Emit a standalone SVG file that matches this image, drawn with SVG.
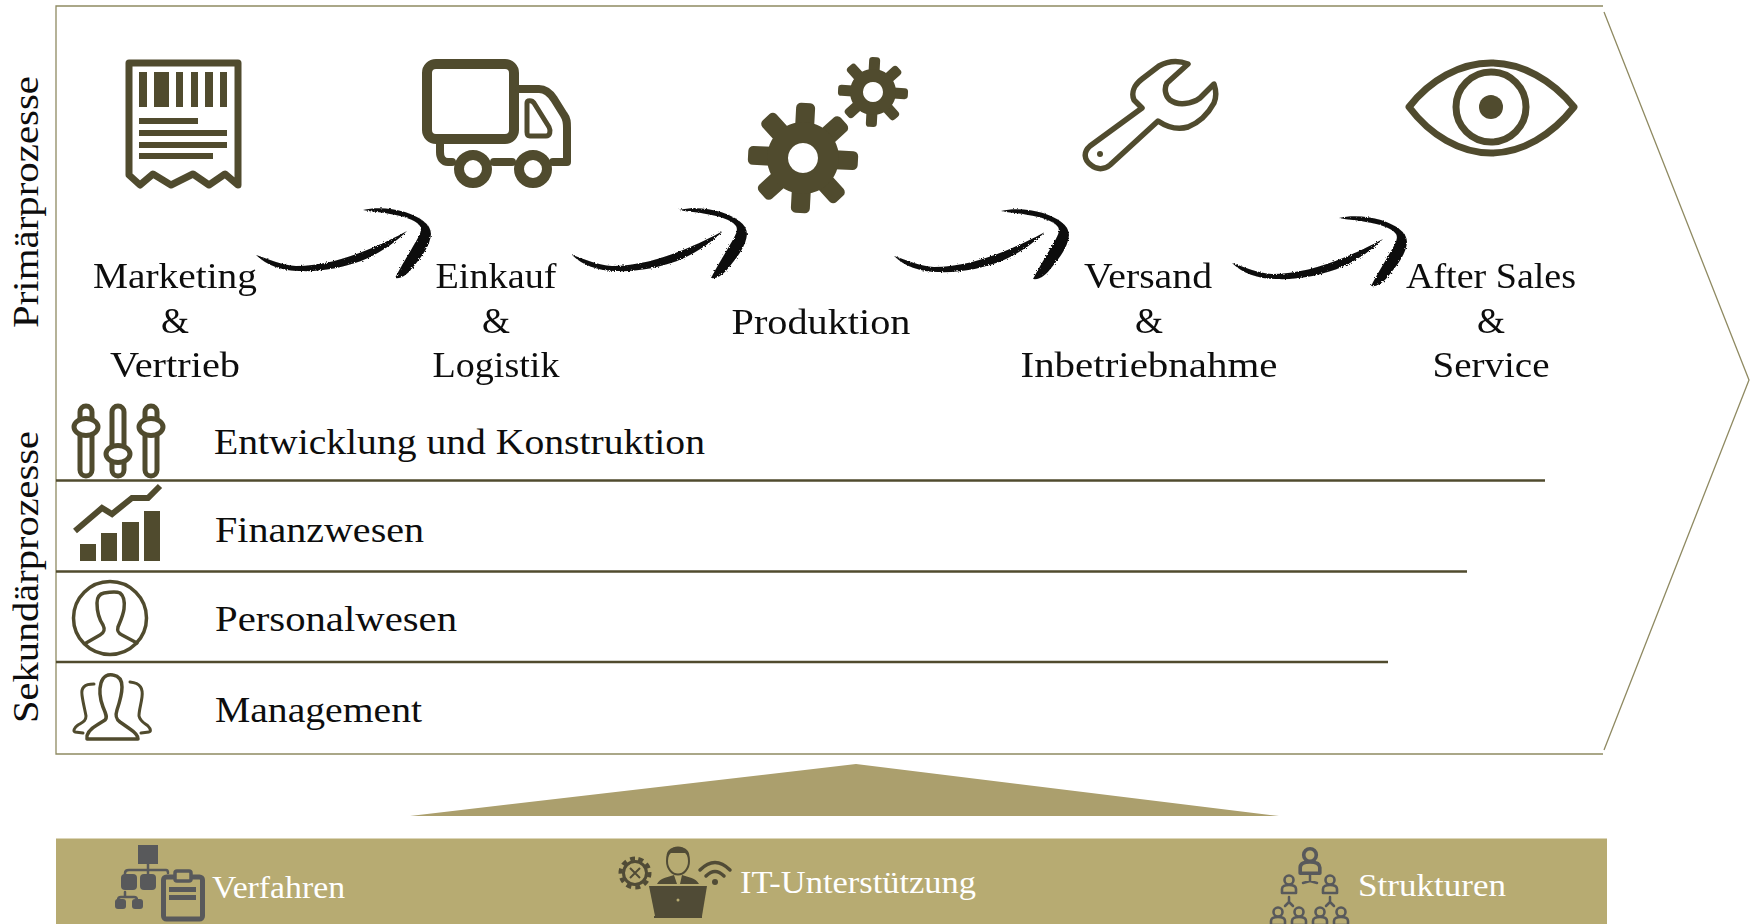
<svg xmlns="http://www.w3.org/2000/svg" xmlns:xlink="http://www.w3.org/1999/xlink" width="1757" height="924" viewBox="0 0 1757 924">
<style>
text{font-family:"Liberation Serif","Times New Roman",serif;fill:#0d0d0d;font-size:36px}
.c{text-anchor:middle}
.w{fill:#fff;font-size:32px}
.i{fill:#504b2e}
.s{fill:none;stroke:#504b2e;stroke-linejoin:round;stroke-linecap:round}
.g{fill:#58595b}
.gs{fill:none;stroke:#58595b;stroke-linejoin:round;stroke-linecap:round}
.ol{fill:none;stroke:#8f8a62;stroke-width:1.3}
.hl{stroke:#504b2e;stroke-width:2.5}
</style>
<defs>
<filter id="rough" x="-5%" y="-5%" width="110%" height="110%"><feTurbulence type="fractalNoise" baseFrequency="0.7" numOctaves="2" seed="4"/><feDisplacementMap in="SourceGraphic" scale="3"/></filter>
<path id="brush" d="M256 255C268 259 282 265 296 266C320 266 345 259 367 250C382 244 396 237 407 231C397 241 383 251 368 258C346 268 320 272 300 271C282 271 266 265 256 255ZM363 210C375 207 392 208 405 212C420 217 431 224 431 234C430 246 422 256 414 266C408 274 402 279 395 278C399 270 405 260 411 250C418 238 423 231 420 226C415 219 402 216 390 214C382 212 372 212 363 210Z"/>
<rect id="t1" x="-9.500" y="-55" width="19" height="28" rx="5"/>
<rect id="t2" x="-5.500" y="-35" width="11" height="18" rx="3.500"/>
<g id="gear1"><use xlink:href="#t1"/><use xlink:href="#t1" transform="rotate(45)"/><use xlink:href="#t1" transform="rotate(90)"/><use xlink:href="#t1" transform="rotate(135)"/><use xlink:href="#t1" transform="rotate(180)"/><use xlink:href="#t1" transform="rotate(225)"/><use xlink:href="#t1" transform="rotate(270)"/><use xlink:href="#t1" transform="rotate(315)"/></g>
<g id="gear2"><use xlink:href="#t2"/><use xlink:href="#t2" transform="rotate(45)"/><use xlink:href="#t2" transform="rotate(90)"/><use xlink:href="#t2" transform="rotate(135)"/><use xlink:href="#t2" transform="rotate(180)"/><use xlink:href="#t2" transform="rotate(225)"/><use xlink:href="#t2" transform="rotate(270)"/><use xlink:href="#t2" transform="rotate(315)"/></g>
</defs>
<g id="frame">
<path class="ol" d="M1603 6H56V754H1603"/>
<path class="ol" d="M1604 12L1749 380L1604 750"/>
</g>
<g id="arrows" fill="#0b0b0b" filter="url(#rough)">
<use xlink:href="#brush"/>
<use xlink:href="#brush" x="316"/>
<use xlink:href="#brush" x="638" y="1"/>
<use xlink:href="#brush" x="976" y="8"/>
</g>
<g id="marketing">
<path class="s" stroke-width="7" d="M129 63H238V185L225 174L209 185L193 174L171 185L153 174L140 185L129 175Z"/>
<g class="i">
<rect x="139" y="72" width="8" height="35"/><rect x="154" y="72" width="15" height="35"/><rect x="176" y="72" width="7" height="35"/><rect x="191" y="72" width="7" height="35"/><rect x="205" y="72" width="8" height="35"/><rect x="220" y="72" width="7" height="35"/>
<rect x="139" y="118" width="59" height="6"/><rect x="139" y="130" width="88" height="6"/><rect x="139" y="142" width="88" height="6"/><rect x="139" y="153" width="74" height="6"/>
</g>
<text class="c" x="175" y="288" textLength="164" lengthAdjust="spacingAndGlyphs">Marketing</text>
<text class="c" x="175" y="333">&amp;</text>
<text class="c" x="175" y="377" textLength="130" lengthAdjust="spacingAndGlyphs">Vertrieb</text>
</g>
<g id="einkauf">
<rect class="s" stroke-width="10" x="427" y="64" width="87" height="75" rx="9"/>
<path class="s" stroke-width="8" d="M519 89H539C546 89 550 93 554 99L564 115C567 119 567 122 567 128V162H553M512 162H494M452 162H448C443 162 440 158 440 152V144"/>
<path class="s" stroke-width="5" d="M527 103C527 100 532 100 534 103L549 127C551 131 550 136 546 136H530C528 136 527 135 527 132Z"/>
<circle class="s" stroke-width="10" cx="473" cy="169" r="14"/>
<circle class="s" stroke-width="10" cx="533" cy="169" r="14"/>
<text class="c" x="496" y="288" textLength="121" lengthAdjust="spacingAndGlyphs">Einkauf</text>
<text class="c" x="496" y="333">&amp;</text>
<text class="c" x="496" y="377" textLength="127" lengthAdjust="spacingAndGlyphs">Logistik</text>
</g>
<g id="produktion">
<g class="i" transform="translate(803 158) rotate(3)"><use xlink:href="#gear1"/></g>
<path class="i" fill-rule="evenodd" d="M803 122a36 36 0 1 0 .01 0ZM803 143a15 15 0 1 1-.01 0Z"/>
<g class="i" transform="translate(873 92) rotate(3)"><use xlink:href="#gear2"/></g>
<path class="i" fill-rule="evenodd" d="M873 69a23 23 0 1 0 .01 0ZM873 82a10 10 0 1 1-.01 0Z"/>
<text class="c" x="821" y="334" textLength="179" lengthAdjust="spacingAndGlyphs">Produktion</text>
</g>
<g id="versand">
<path class="s" stroke-width="5.5" d="M1188 64C1178 60 1168 61 1159 66L1142 79C1134 85 1131 93 1134 100L1142 108L1090 146C1083 152 1084 160 1091 165C1097 170 1104 170 1110 165L1158 121C1167 127 1178 130 1188 127C1198 123 1208 114 1214 103C1217 96 1216 90 1214 84L1200 98C1192 104 1178 106 1170 100C1165 96 1164 88 1167 83Z"/>
<circle class="i" cx="1100" cy="154" r="3"/>
<text class="c" x="1148" y="288" textLength="128" lengthAdjust="spacingAndGlyphs">Versand</text>
<text class="c" x="1149" y="333">&amp;</text>
<text class="c" x="1149" y="377" textLength="257" lengthAdjust="spacingAndGlyphs">Inbetriebnahme</text>
</g>
<g id="aftersales">
<path class="s" stroke-width="7" d="M1409 107C1430 80 1460 63 1491 63C1522 63 1552 80 1574 107C1552 135 1522 153 1491 153C1460 153 1430 135 1409 107Z"/>
<circle class="s" stroke-width="7" cx="1491" cy="107" r="35"/>
<circle class="i" cx="1491" cy="107" r="12"/>
<text class="c" x="1491" y="288" textLength="170" lengthAdjust="spacingAndGlyphs">After Sales</text>
<text class="c" x="1491" y="333">&amp;</text>
<text class="c" x="1491" y="377" textLength="117" lengthAdjust="spacingAndGlyphs">Service</text>
</g>
<g id="primaer-label"><text transform="translate(38 328) rotate(-90)" textLength="252" lengthAdjust="spacingAndGlyphs">Primärprozesse</text></g>
<g id="sekundaer-label"><text transform="translate(38 723) rotate(-90)" textLength="292" lengthAdjust="spacingAndGlyphs">Sekundärprozesse</text></g>
<g id="lines">
<path class="hl" d="M56 480.500H1545M56 571.500H1467M56 662H1388"/>
</g>
<g id="entwicklung">
<g class="s" stroke-width="5"><rect x="80" y="406" width="12" height="70" rx="6"/><rect x="112" y="406" width="12" height="70" rx="6"/><rect x="145" y="406" width="12" height="70" rx="6"/></g>
<g fill="#fff" stroke="#504b2e" stroke-width="5"><ellipse cx="86" cy="427" rx="12" ry="8.500"/><ellipse cx="118" cy="454" rx="12" ry="8.500"/><ellipse cx="151" cy="427" rx="12" ry="8.500"/></g>
<text x="214" y="454" textLength="491" lengthAdjust="spacingAndGlyphs">Entwicklung und Konstruktion</text>
</g>
<g id="finanzwesen">
<path fill="none" stroke="#504b2e" stroke-width="6" d="M75 531L102 508L112 514L132 498H148L160 486"/>
<g class="i"><rect x="80" y="544" width="16" height="17"/><rect x="101" y="533" width="16" height="28"/><rect x="122" y="522" width="17" height="39"/><rect x="144" y="511" width="16" height="50"/></g>
<text x="215" y="542" textLength="209" lengthAdjust="spacingAndGlyphs">Finanzwesen</text>
</g>
<g id="personalwesen">
<circle class="s" stroke-width="3.500" cx="110" cy="618" r="36.500"/>
<path class="s" stroke-width="3.500" d="M86 643L100 635C105 632 105 629 103 625C99 619 97 611 97 603C97 597 99 594 104 593C110 592 116 591 120 593C124 596 125 601 124 609C123 616 120 622 118 627C117 631 118 633 122 635L137 643"/>
<text x="215" y="631" textLength="242" lengthAdjust="spacingAndGlyphs">Personalwesen</text>
</g>
<g id="management">
<path class="s" stroke-width="3.500" d="M87 739C86 733 90 729 97 725L105 720C108 717 105 712 103 707C100 699 99 690 101 683C103 676 108 674 113 675C119 676 122 680 122 687C122 695 119 704 117 710C115 716 116 719 120 722L130 729C136 733 138 736 138 739Z"/>
<path class="s" stroke-width="3" d="M94 684C84 684 81 688 82 695C83 703 85 710 86 716C86 721 83 722 78 725C74 728 73 731 75 732L83 733"/>
<path class="s" stroke-width="3" d="M130 682C141 683 143 689 142 697C141 705 139 710 139 716C140 721 144 723 148 726C151 729 151 732 149 732L141 733"/>
<text x="215" y="722" textLength="207" lengthAdjust="spacingAndGlyphs">Management</text>
</g>
<g id="triangle"><polygon points="410,816 856,764 1279,816" fill="#ab9f6d"/></g>
<g id="band"><rect x="56" y="838.500" width="1551" height="86" fill="#b7ab72"/></g>
<g id="verfahren">
<rect class="g" x="138" y="845" width="20" height="19"/>
<path class="gs" stroke-width="2.500" d="M148 864V870M125 878V873C125 871 127 870 129 870H166C168 870 168 872 168 873M148 870V876M125 892V897M118 903V900C118 898 119 897 121 897H134C136 897 137 898 137 900V903"/>
<rect class="g" x="121" y="874" width="16" height="16" rx="4"/><rect class="g" x="140" y="874" width="16" height="16" rx="4"/>
<rect class="g" x="115" y="899" width="11" height="10" rx="3"/><rect class="g" x="132" y="899" width="11" height="10" rx="3"/>
<rect class="gs" stroke-width="5" x="163.500" y="877" width="39" height="42" rx="3"/>
<rect fill="#b7ab72" stroke="#58595b" stroke-width="3.500" x="175" y="871" width="16" height="10" rx="2"/>
<rect class="g" x="169" y="887" width="27" height="5"/><rect class="g" x="169" y="895" width="27" height="5"/>
<text class="w" x="212" y="898" textLength="133" lengthAdjust="spacingAndGlyphs">Verfahren</text>
</g>
<g id="it">
<circle fill="none" stroke="#504b36" stroke-width="3" cx="635" cy="873" r="11.500"/>
<path fill="none" stroke="#504b36" stroke-width="4" stroke-dasharray="5 4.100" d="M635 858.500a14.500 14.500 0 1 0 .01 0Z"/>
<path fill="none" stroke="#504b36" stroke-width="2" d="M630 868L640 878M640 868L630 878"/>
<ellipse cx="678" cy="861" rx="11" ry="13.500" fill="#b7ab72" stroke="#504b36" stroke-width="2"/>
<path fill="#504b36" d="M667 860C665 851 670 847 678 847C686 847 691 851 689 860C688 856 687 854 685 853H671C669 854 668 856 667 860Z M657 884C660 878 668 877 674 875L677 884H680L682 875C688 877 696 878 699 884Z"/>
<path fill="#504b36" d="M649 886H707L702 916H655Z"/>
<rect x="654" y="916" width="48" height="2" fill="#504b36"/>
<circle cx="678" cy="900" r="1.500" fill="#b7ab72"/>
<path fill="none" stroke="#504b36" stroke-width="3.500" stroke-linecap="round" d="M700 870C710 860 720 860 730 870M706 876C712 870 718 870 724 876"/>
<circle cx="715" cy="882" r="3" fill="#504b36"/>
<text class="w" x="740" y="893" textLength="236" lengthAdjust="spacingAndGlyphs">IT-Unterstützung</text>
</g>
<g id="strukturen">
<defs><g id="p"><circle cx="0" cy="-5" r="4.500" fill="none" stroke-width="2.600"/><path fill="none" stroke-width="2.600" d="M-7 8V4C-7 1-4 0 0 0C4 0 7 1 7 4V8Z"/></g></defs>
<g stroke="#58595b" stroke-linejoin="round">
<g transform="translate(1310 862) scale(1.400)"><use xlink:href="#p"/></g>
<use xlink:href="#p" x="1289" y="885"/><use xlink:href="#p" x="1330" y="885"/>
<use xlink:href="#p" x="1278" y="917"/><use xlink:href="#p" x="1299" y="917"/><use xlink:href="#p" x="1320" y="917"/><use xlink:href="#p" x="1341" y="917"/>
</g>
<path class="gs" stroke-width="2.500" d="M1310 875V881M1303 883L1310 881L1317 883M1289 897V902M1285 906L1289 902L1293 906M1330 897V902M1326 906L1330 902L1334 906"/>
<text class="w" x="1358" y="896" textLength="148" lengthAdjust="spacingAndGlyphs">Strukturen</text>
</g>
</svg>
